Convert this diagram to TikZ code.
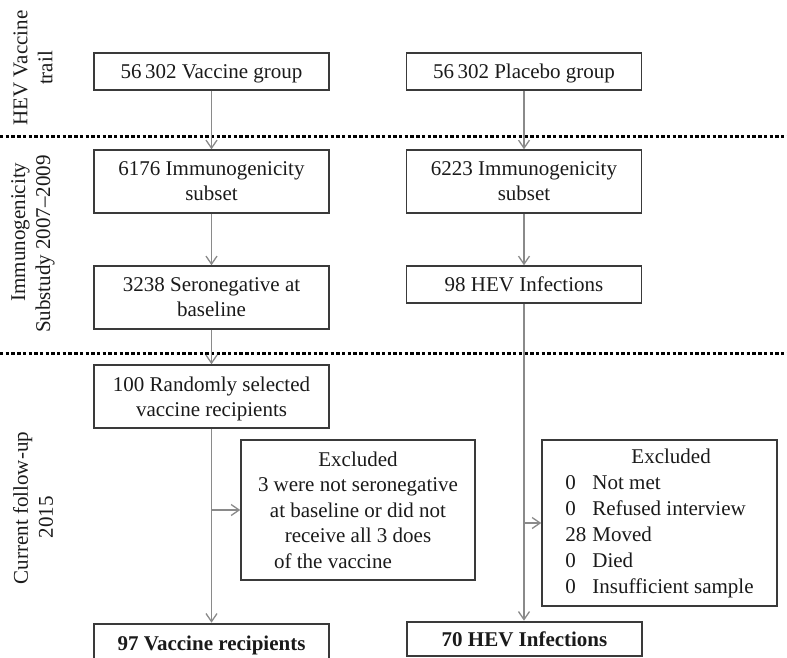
\documentclass[tikz,border=0pt]{standalone}
\usepackage{fontspec}
\setmainfont{Liberation Serif}
\usetikzlibrary{arrows.meta}
\definecolor{boxline}{HTML}{3A3A3A}
\definecolor{arrline}{HTML}{8A8A8A}
\definecolor{txt}{HTML}{1A1A1A}
\newcommand{\mainsize}{\fontsize{21bp}{25bp}\selectfont}
\newcommand{\exclsize}{\fontsize{21bp}{25.5bp}\selectfont}
\newcommand{\listsize}{\fontsize{21bp}{26bp}\selectfont}
\tikzset{
  box/.style={draw=boxline, line width=1.5bp, minimum width=235bp, inner sep=0pt,
    align=center, text=txt, font=\mainsize, text depth=0pt},
  endbox/.style={box, line width=2.6bp, font=\mainsize\bfseries},
  arr/.style={draw=arrline, line width=1.3bp, -{Straight Barb[length=8bp,width=11bp]}},
  sepline/.style={draw=black, line width=3bp, dash pattern=on 3.4bp off 2.3bp},
  side/.style={rotate=90, align=center, font=\mainsize, text=txt, inner sep=0pt}
}
\begin{document}
\begin{tikzpicture}[x=1bp,y=-1bp]
\useasboundingbox (0,0) rectangle (787,658);
\clip (0,0) rectangle (787,658);

% separators
\draw[sepline] (0,137) -- (787,137);
\draw[sepline] (0,353) -- (787,353);

% side labels
\node[side] (lab1) at (33,68) {HEV Vaccine\\trail};
\node[side] (lab2) at (33,244) {\hspace*{24bp}Immunogenicity\\Substudy 2007--2009};
\node[side] (lab3) at (33,508) {Current follow-up\\2015\hspace*{18bp}};

% vaccine column
\node[box, minimum height=37bp] (v1) at (211.5,71.5) {56\,302 Vaccine group};
\node[box, minimum height=63bp] (v2) at (211.5,181.5) {6176 Immunogenicity\\subset};
\node[box, minimum height=63bp] (v3) at (211.5,297.5) {3238 Seronegative at\\baseline};
\node[box, minimum height=63bp] (v4) at (211.5,396.5) {100 Randomly selected\\vaccine recipients};
\node[box, minimum width=234bp, minimum height=140bp, font=\exclsize] (el) at (358,510)
  {Excluded\\3 were not seronegative\\at baseline or did not\\receive all 3 does\\of the vaccine\hspace*{50bp}};
\node[endbox, minimum height=38bp] (v5) at (211.5,643) {97 Vaccine recipients};

% placebo column
\node[box, minimum height=37bp] (p1) at (524,71.5) {56\,302 Placebo group};
\node[box, minimum height=63bp] (p2) at (524,181.5) {6223 Immunogenicity\\subset};
\node[box, minimum height=37bp] (p3) at (524,284.5) {98 HEV Infections};
\node[draw=boxline, line width=1.5bp, minimum width=235bp, minimum height=166bp,
  inner sep=0pt, align=left, text=txt, font=\listsize] (er) at (659.5,523)
  {\hspace*{66bp}Excluded\\
   \makebox[27bp][l]{0}Not met\\
   \makebox[27bp][l]{0}Refused interview\\
   \makebox[27bp][l]{28}Moved\\
   \makebox[27bp][l]{0}Died\\
   \makebox[27bp][l]{0}Insufficient sample};
\node[endbox, minimum height=34bp] (p5) at (524.5,639) {70 HEV Infections};

% connectors
\draw[arr] (v1) -- (v2);
\draw[arr] (v2) -- (v3);
\draw[arr] (v3) -- (v4);
\draw[arr] (v4) -- (v5);
\draw[arr] (v4.south |- el.west) -- (el.west);
\draw[arr] (p1) -- (p2);
\draw[arr] (p2) -- (p3);
\draw[arr] (p3.south) -- (p3.south |- p5.north);
\draw[arr] (p3.south |- er.west) -- (er.west);
\end{tikzpicture}
\end{document}
